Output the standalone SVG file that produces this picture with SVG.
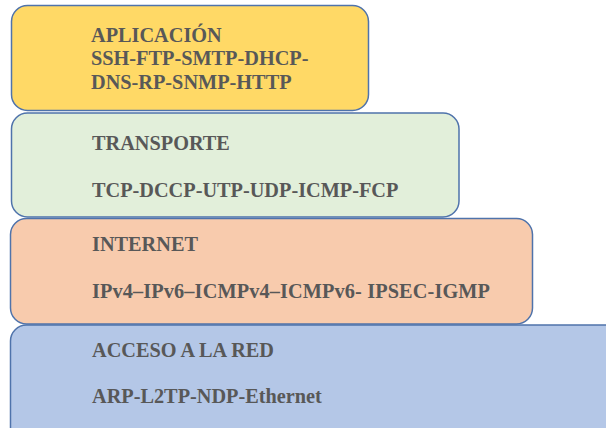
<svg xmlns="http://www.w3.org/2000/svg" width="606" height="428" viewBox="0 0 606 428">
<style>
.box{stroke:#4f73ab;stroke-width:1.5}
.t{font-family:"Liberation Serif","Times New Roman",serif;font-weight:bold;font-size:20.3px;fill:#585858}
</style>
<rect width="606" height="428" fill="#ffffff"/>
<g id="acceso">
<rect class="box" x="10.5" y="325" width="620" height="130" rx="16" fill="#b4c7e7"/>
<text class="t" x="92" y="357">ACCESO A LA RED</text>
<text class="t" x="92" y="403">ARP-L2TP-NDP-Ethernet</text>
</g>
<g id="internet">
<rect class="box" x="10.5" y="218.5" width="522" height="105.5" rx="16" fill="#f8cbad"/>
<text class="t" x="92" y="251">INTERNET</text>
<text class="t" x="92" y="298" textLength="398" lengthAdjust="spacing">IPv4–IPv6–ICMPv4–ICMPv6- IPSEC-IGMP</text>
</g>
<g id="transporte">
<rect class="box" x="11.5" y="113" width="447.5" height="104" rx="16" fill="#e2efda"/>
<text class="t" x="92" y="150">TRANSPORTE</text>
<text class="t" x="92" y="197">TCP-DCCP-UTP-UDP-ICMP-FCP</text>
</g>
<g id="aplicacion">
<rect class="box" x="11.5" y="5.5" width="357" height="105" rx="16" fill="#ffd966"/>
<text class="t" x="91" y="42">APLICACIÓN</text>
<text class="t" x="91" y="65">SSH-FTP-SMTP-DHCP-</text>
<text class="t" x="91" y="89">DNS-RP-SNMP-HTTP</text>
</g>
<g id="connectors"></g>
</svg>
